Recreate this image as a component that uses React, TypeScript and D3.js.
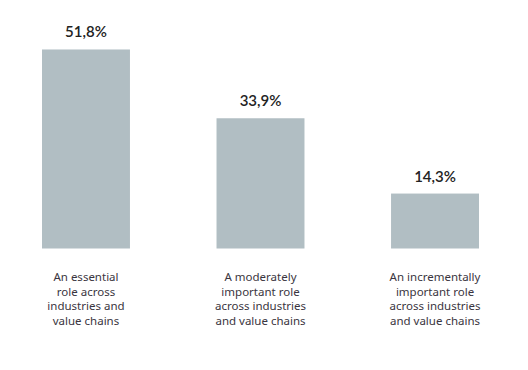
import React, { useEffect, useRef } from 'react';
import * as d3 from 'd3';

const categories = [
  ['An essential', 'role across', 'industries and', 'value chains'],
  ['A moderately', 'important role', 'across industries', 'and value chains'],
  ['An incrementally', 'important role', 'across industries', 'and value chains'],
];
const values = [51.8, 33.9, 14.3];
const valueLabels = ['51,8%', '33,9%', '14,3%'];

const App: React.FC = () => {
  const ref = useRef<SVGSVGElement>(null);

  useEffect(() => {
    if (!ref.current) return;
    const svg = d3.select(ref.current);
    svg.selectAll('*').remove();

    const baseY = 248.5;
    const ids = categories.map((_, i) => String(i));

    const x = d3.scaleBand<string>()
      .domain(ids)
      .range([42, 479])
      .paddingInner(0.496)
      .paddingOuter(0);

    const y = d3.scaleLinear()
      .domain([0, 55])
      .range([baseY, baseY - 55 * 3.842]);

    const g = svg.append('g');

    // bars
    g.selectAll('.bar')
      .data(values)
      .enter().append('rect')
      .attr('class', 'bar')
      .attr('x', (_, i) => x(ids[i]) || 0)
      .attr('width', x.bandwidth())
      .attr('y', d => y(d))
      .attr('height', d => baseY - y(d))
      .attr('fill', '#b1bec3');

    // value labels
    g.selectAll('.val')
      .data(values)
      .enter().append('text')
      .attr('class', 'val')
      .attr('x', (_, i) => (x(ids[i]) || 0) + x.bandwidth() / 2)
      .attr('y', d => y(d) - 12)
      .attr('text-anchor', 'middle')
      .style('font-family', 'Lato, "Noto Sans", sans-serif')
      .style('font-size', '15px')
      .style('font-weight', '600')
      .style('fill', '#222')
      .text((_, i) => valueLabels[i]);

    // category labels
    categories.forEach((lines, i) => {
      const cx = (x(ids[i]) || 0) + x.bandwidth() / 2;
      const t = g.append('text')
        .attr('text-anchor', 'middle')
        .style('font-family', '"Noto Sans", sans-serif')
        .style('font-size', '11.5px')
        .style('fill', '#3a3540');
      lines.forEach((line, j) => {
        t.append('tspan')
          .attr('x', cx)
          .attr('y', 281 + j * 14.6)
          .text(line);
      });
    });
  }, []);

  return (
    <svg
      ref={ref}
      width={528}
      height={370}
      style={{ position: 'absolute', left: 0, top: 0, background: '#fff' }}
    />
  );
};

export default App;
